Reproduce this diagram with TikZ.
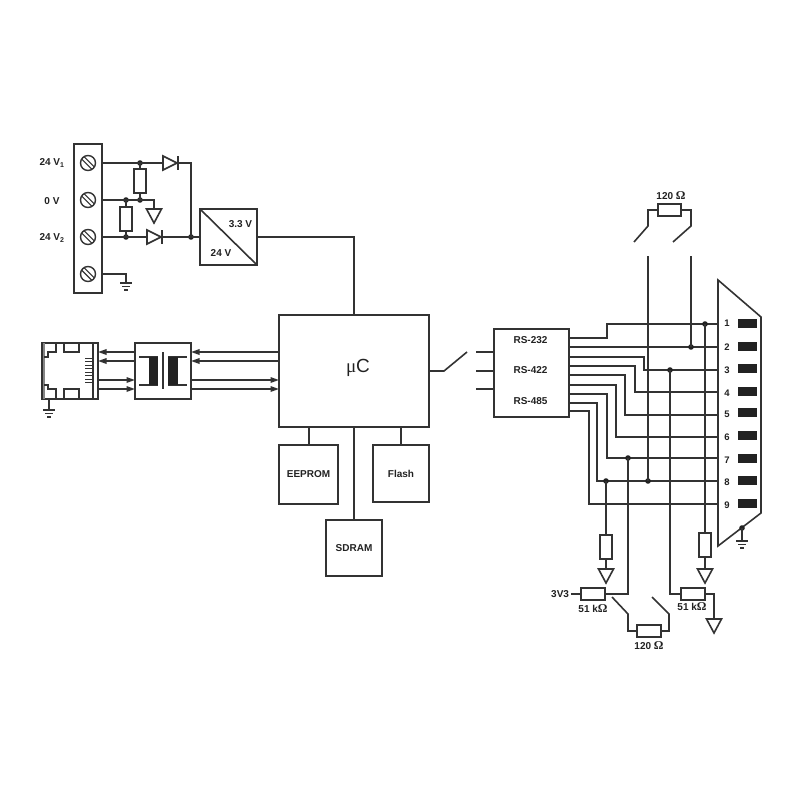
\documentclass[tikz,border=0pt]{standalone}
\usepackage{fontspec}
\setmainfont{Liberation Sans}
\newfontfamily\serifsym{Liberation Serif}
\usetikzlibrary{arrows.meta}
\definecolor{ink}{HTML}{333333}
\definecolor{textink}{HTML}{222222}
\newcommand{\ohm}{{\serifsym\fontsize{12}{12}\selectfont\symbol{"03A9}}}
\tikzset{
  every path/.style={line width=1.6pt},
  boxn/.style={draw=ink,line width=1.6pt,inner sep=0pt,outer sep=0pt,fill=white,font=\fontsize{10}{12}\selectfont\bfseries,text=textink},
  res/.style={draw=ink,line width=1.6pt,inner sep=0pt,outer sep=0pt,fill=white,minimum width=#1},
  resv/.style={res=12pt,minimum height=24pt},
  resh/.style={res=24pt,minimum height=12pt},
  lab/.style={inner sep=0pt,outer sep=0pt,font=\fontsize{10}{12}\selectfont\bfseries,text=textink},
  dot/.style={circle,fill=textink,draw=none,minimum size=5.6pt,inner sep=0pt,outer sep=0pt},
  pad/.style={fill=textink,draw=textink,line width=.5pt,minimum width=17.5pt,minimum height=8pt,inner sep=0pt,outer sep=0pt},
  arr/.style={-{Triangle[length=8.5pt,width=5.5pt,fill=textink]}},
  screw/.pic={
    \node[circle,draw=ink,line width=1.4pt,minimum size=15pt,inner sep=0pt,outer sep=0pt] (-c) {};
    \draw[line width=1.2pt] (-3.6,-6.0) -- (6.0,3.6);
    \draw[line width=1.2pt] (-6.0,-3.6) -- (3.6,6.0);
  },
  diode/.pic={
    \draw[fill=white] (0,-7) -- (14,0) -- (0,7) -- cycle;
    \draw (15,-7) -- (15,7);
    \coordinate (-in) at (0,0);
    \coordinate (-out) at (15,0);
  },
  tri/.pic={
    \draw[fill=white] (-7.5,0) -- (7.5,0) -- (0,14) -- cycle;
    \coordinate (-top) at (0,0);
  },
  earth/.pic={
    \draw (-6,0) -- (6,0);
    \draw (-4,3.5) -- (4,3.5);
    \draw (-2,7) -- (2,7);
    \coordinate (-top) at (0,0);
  },
}
\begin{document}
\begin{tikzpicture}[x=1pt,y=-1pt,color=ink]
\useasboundingbox[fill=white,draw=none] (0,0) rectangle (800,800);

% ---------- supply block
\node[boxn,minimum width=28pt,minimum height=149pt] (term) at (88,218.5) {};
\pic (s1) at (88,163) {screw};
\pic (s2) at (88,200) {screw};
\pic (s3) at (88,237) {screw};
\pic (s4) at (88,274) {screw};
\node[lab] (l24a) at (52,163) {24 V\textsubscript{1}};
\node[lab] (l0v) at (52,201) {0 V};
\node[lab] (l24b) at (52,238) {24 V\textsubscript{2}};

\node[boxn,minimum width=57pt,minimum height=56pt] (conv) at (228.5,237) {};
\draw (conv.north west) -- (conv.south east);
\node[lab] (l33) at (240.5,224) {3.3 V};
\node[lab] (l24) at (221,253) {24 V};

\node[dot] (j1) at (140,163) {};
\node[dot] (j2) at (140,200) {};
\node[dot] (j3) at (126,200) {};
\node[dot] (j4) at (126,237) {};
\node[dot] (j5) at (191,237) {};
\pic (d1) at (163,163) {diode};
\pic (d2) at (147,237) {diode};
\pic (t0) at (154,209) {tri};
\pic (g0) at (126,283) {earth};

\draw (term.east |- s1-c) -- (d1-in);
\draw (d1-out) -| (j5.center);
\draw (term.east |- s2-c) -- (j2.center) -| (t0-top);
\draw (term.east |- s3-c) -- (d2-in);
\draw (d2-out) -- (conv.west |- d2-out);
\draw (term.east |- s4-c) -| (g0-top);
\node[resv] (r1) at (140,181) {};
\node[resv] (r2) at (126,219) {};
\draw (j1.center) -- (r1.north);
\draw (r1.south) -- (r1.south |- j2);
\draw (j3.center) -- (r2.north);
\draw (r2.south) -- (r2.south |- j4);

% ---------- controller and memories
\node[boxn,minimum width=150pt,minimum height=112pt] (mc) at (354,371) {};
\node[inner sep=0pt,outer sep=0pt,text=textink] (mclabel) at (358,368) {\fontsize{19}{20}\selectfont{\serifsym\symbol{"03BC}}C};
\node[boxn,minimum width=59pt,minimum height=59pt] (eeprom) at (308.5,474.5) {EEPROM};
\node[boxn,minimum width=56pt,minimum height=57pt] (flash) at (401,473.5) {Flash};
\node[boxn,minimum width=56pt,minimum height=56pt] (sdram) at (354,548) {SDRAM};
\coordinate (eebus) at (309,0);
\draw (conv.east) -| (mc.north);
\draw (eebus |- eeprom.north) -- (eebus |- mc.south);
\draw (flash.north) -- (flash.north |- mc.south);
\draw (sdram.north) -- (mc.south);

% ---------- Ethernet side
\node[boxn,minimum width=56pt,minimum height=56pt] (eth) at (70,371) {};
\node[boxn,minimum width=56pt,minimum height=56pt] (trans) at (163,371) {};
\draw[line width=2pt,draw=ink!60] (44,343) -- (44,399);
\draw (93,343) -- (93,399);
\draw (44,357) -- (48,357) -- (48,352) -- (56,352) -- (56,343);
\draw (44,385) -- (48,385) -- (48,389) -- (56,389) -- (56,399);
\draw (64,343) -- (64,352) -- (79,352) -- (79,343);
\draw (64,399) -- (64,389) -- (79,389) -- (79,399);
\foreach \yy in {358,361.5,365,368.5,372,375.5,379,382.5}{
  \draw[line width=.8pt] (85,\yy) -- (93,\yy);
}
\pic (g1) at (49,410) {earth};
\draw (g1-top |- eth.south) -- (g1-top);

\draw (139,357) -- (158,357);
\draw (139,385) -- (158,385);
\draw (168,357) -- (187,357);
\draw (168,385) -- (187,385);
\fill[textink] (149,357) rectangle (158,385);
\fill[textink] (168,357) rectangle (178,385);
\draw (163,352) -- (163,389);

\coordinate (a1) at (0,352);
\coordinate (a2) at (0,361);
\coordinate (a3) at (0,380);
\coordinate (a4) at (0,389);
\draw[arr] (trans.west |- a1) -- (eth.east |- a1);
\draw[arr] (trans.west |- a2) -- (eth.east |- a2);
\draw[arr] (eth.east |- a3) -- (trans.west |- a3);
\draw[arr] (eth.east |- a4) -- (trans.west |- a4);
\draw[arr] (mc.west |- a1) -- (trans.east |- a1);
\draw[arr] (mc.west |- a2) -- (trans.east |- a2);
\draw[arr] (trans.east |- a3) -- (mc.west |- a3);
\draw[arr] (trans.east |- a4) -- (mc.west |- a4);

% ---------- serial block
\node[boxn,minimum width=75pt,minimum height=88pt] (rs) at (531.5,373) {};
\node[lab] (rs1) at (530.5,340) {RS-232};
\node[lab] (rs2) at (530.5,370.5) {RS-422};
\node[lab] (rs3) at (530.5,401) {RS-485};

\coordinate (sw1) at (444,371);
\coordinate (sw2) at (467,352);
\draw (mc.east |- sw1) -- (sw1) -- (sw2);
\coordinate (st1) at (476,352);
\coordinate (st2) at (476,371);
\coordinate (st3) at (476,389);
\draw (st1) -- (rs.west |- st1);
\draw (st2) -- (rs.west |- st2);
\draw (st3) -- (rs.west |- st3);

% ---------- D-sub connector
\coordinate (c1) at (718,280);
\coordinate (c2) at (761,317);
\coordinate (c3) at (761,513);
\coordinate (c4) at (718,546);
\draw (c1) -- (c2) -- (c3) -- (c4) -- cycle;
\foreach \n/\yy/\py/\ty in {1/324/323/323.5,2/347/346/347,3/370/368.5/370,4/392/391.5/393,5/415/412.5/414,6/437/435.5/437,7/458/458/460.5,8/481/480.5/482.5,9/504/503.5/505}{
  \coordinate (p\n) at (718,\yy);
  \node[pad] (pad\n) at (747,\py) {};
  \node[lab,font=\fontsize{9.5}{11}\selectfont\bfseries] (num\n) at (727,\ty) {\n};
}
\coordinate (o1) at (569,338);
\coordinate (o2) at (569,347);
\coordinate (o3) at (569,357);
\coordinate (o4) at (569,366);
\coordinate (o5) at (569,375);
\coordinate (o6) at (569,385);
\coordinate (o7) at (569,394);
\coordinate (o8) at (569,403);
\coordinate (o9) at (569,411);
\coordinate (v1) at (607,0);
\coordinate (v3) at (644,0);
\coordinate (v4) at (635,0);
\coordinate (v5) at (625,0);
\coordinate (v6) at (616,0);
\coordinate (v7) at (607,0);
\coordinate (v8) at (597,0);
\coordinate (v9) at (589,0);
\foreach \n in {1,3,4,5,6,7,8,9}{
  \draw (o\n) -- (v\n |- o\n) -- (v\n |- p\n) -- (p\n);
}
\draw (o2) -- (p2);

\node[dot] (k1) at (705,324) {};
\node[dot] (k2) at (691,347) {};
\node[dot] (k3) at (670,370) {};
\node[dot] (k7) at (628,458) {};
\node[dot] (k8a) at (606,481) {};
\node[dot] (k8b) at (648,481) {};
\node[dot] (k9) at (742,528) {};
\pic (g2) at (742,541) {earth};
\draw (k9.center) -- (g2-top);

% upper termination
\node[res=23pt,minimum height=12pt] (r120a) at (669.5,210) {};
\node[lab] (t120a) at (671,196) {120 \ohm};
\coordinate (ua1) at (648,226);
\coordinate (ua2) at (634,242);
\coordinate (ub1) at (691,226);
\coordinate (ub2) at (673,242);
\coordinate (ua3) at (648,256);
\coordinate (ub3) at (691,256);
\draw (r120a.west) -| (ua1) -- (ua2);
\draw (r120a.east) -| (ub1) -- (ub2);
\draw (ua3) -- (k8b.center);
\draw (ub3) -- (k2.center);

% pull resistors
\node[resv] (r3) at (606,547) {};
\node[resv] (r4) at (705,545) {};
\pic (t1) at (606,569) {tri};
\pic (t2) at (705,569) {tri};
\draw (k8a.center) -- (r3.north);
\draw (r3.south) -- (t1-top);
\draw (k1.center) -- (r4.north);
\draw (r4.south) -- (t2-top);

\node[resh] (r5) at (593,594) {};
\node[resh] (r6) at (693,594) {};
\pic (t3) at (714,619) {tri};
\draw (k7.center) |- (r5.east);
\draw (k3.center) |- (r6.west);
\draw (r6.east) -| (t3-top);
\coordinate (vcc) at (571,594);
\draw (vcc) -- (r5.west);
\node[lab,anchor=east] (t3v3) at (569,594) {3V3};
\node[lab] (t51a) at (593,609) {51 k\ohm};
\node[lab] (t51b) at (692,607) {51 k\ohm};

% lower termination
\node[resh] (r7) at (649,631) {};
\node[lab] (t120b) at (649,646) {120 \ohm};
\coordinate (la1) at (628,614);
\coordinate (la2) at (612,597);
\coordinate (lb1) at (669,614);
\coordinate (lb2) at (652,597);
\draw (r7.west) -| (la1) -- (la2);
\draw (r7.east) -| (lb1) -- (lb2);
\end{tikzpicture}
\end{document}
